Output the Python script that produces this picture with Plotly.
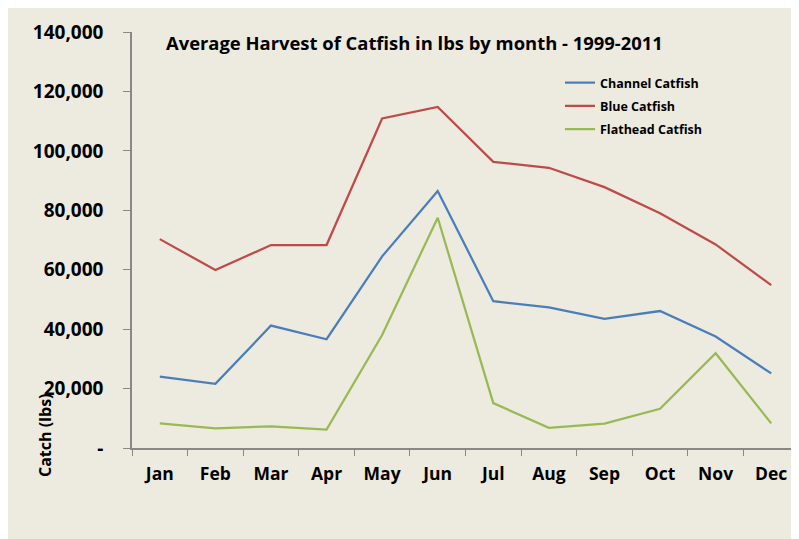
import plotly.graph_objects as go

months = ["Jan", "Feb", "Mar", "Apr", "May", "Jun", "Jul", "Aug", "Sep", "Oct", "Nov", "Dec"]
channel = [24000, 21600, 41200, 36600, 64500, 86500, 49400, 47300, 43500, 46100, 37500, 25100]
blue = [70300, 59900, 68300, 68300, 110900, 114800, 96300, 94300, 87800, 79000, 68500, 54800]
flathead = [8300, 6600, 7300, 6200, 38000, 77500, 15100, 6800, 8200, 13200, 31900, 8300]

ytick_vals = [0, 20000, 40000, 60000, 80000, 100000, 120000, 140000]
ytick_text = ["-", "20,000", "40,000", "60,000", "80,000", "100,000", "120,000", "140,000"]

# page has an 8px body margin; figure coordinates = page - 8
W, H = 791, 531
L, R, T, B = 124, 0, 24, 91
pw = W - L - R
ph = H - T - B

def px_x(p):
    return (p - 8 - L) / pw

def px_y(p):
    return (H - B - (p - 8)) / ph

FONT = "Open Sans"

fig = go.Figure()
series = [("Channel Catfish", channel, "#4A7EBB"),
          ("Blue Catfish", blue, "#BE4B48"),
          ("Flathead Catfish", flathead, "#98B954")]
for name, vals, col in series:
    fig.add_trace(go.Scatter(x=months, y=vals, name=name, mode="lines",
                             legendgroup=name,
                             line=dict(color=col, width=2.25)))

fig.update_layout(
    width=W, height=H,
    margin=dict(l=L, r=R, t=T, b=B),
    paper_bgcolor="#EDEADF",
    plot_bgcolor="#EDEADF",
    font=dict(family=FONT, color="black"),
    showlegend=True,
    legend=dict(x=px_x(560), y=px_y(68), xanchor="left", yanchor="top",
                bgcolor="rgba(0,0,0,0)",
                font=dict(family=FONT, size=12.5, color="black", weight="bold"),
                tracegroupgap=4),
    annotations=[
        dict(text="Average Harvest of Catfish in lbs by month - 1999-2011",
             xref="paper", yref="paper", x=px_x(164), y=px_y(42),
             xanchor="left", yanchor="middle", showarrow=False,
             font=dict(family=FONT, size=18.4, color="black", weight="bold")),
        dict(text="Catch (lbs)", textangle=-90,
             xref="paper", yref="paper", x=px_x(45), y=px_y(435),
             xanchor="center", yanchor="middle", showarrow=False,
             font=dict(family=FONT, size=16, color="black", weight="bold")),
    ],
)

fig.update_xaxes(type="category", range=[-0.5, 11.5],
                 showline=True, linecolor="#888888", linewidth=1.5,
                 ticks="outside", tickson="boundaries", ticklen=6, tickcolor="#888888",
                 showgrid=False, zeroline=False,
                 ticklabelstandoff=9,
                 tickfont=dict(family=FONT, size=17.5, color="black", weight="bold"))
fig.update_yaxes(range=[0, 140000], tickvals=ytick_vals, ticktext=ytick_text,
                 showline=True, linecolor="#888888", linewidth=1.5,
                 ticks="outside", ticklen=7, tickcolor="#888888",
                 showgrid=False, zeroline=False,
                 ticklabelstandoff=16,
                 tickfont=dict(family=FONT, size=19, color="black", weight="bold"))

fig.write_html("out.html")
